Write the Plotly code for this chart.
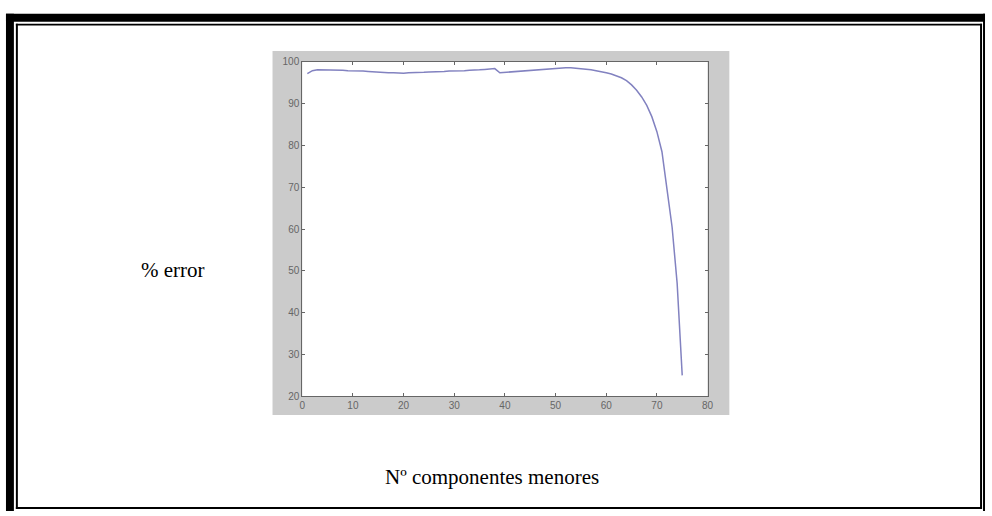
import plotly.graph_objects as go

# ---- data ----
components = list(range(1, 76))
error_pct = [
    97.2, 97.9, 98.1, 98.1, 98.1, 98.0, 98.0, 98.0, 97.9, 97.9,
    97.8, 97.8, 97.7, 97.6, 97.6, 97.5, 97.4, 97.4, 97.3, 97.3,
    97.4, 97.4, 97.5, 97.5, 97.6, 97.6, 97.7, 97.7, 97.8, 97.8,
    97.9, 97.9, 98.0, 98.0, 98.1, 98.2, 98.3, 98.4, 97.4, 97.5,
    97.6, 97.7, 97.8, 97.9, 98.0, 98.1, 98.2, 98.3, 98.4, 98.5,
    98.5, 98.6, 98.6, 98.5, 98.4, 98.3, 98.1, 97.9, 97.7, 97.4,
    97.1, 96.7, 96.2, 95.5, 94.5, 93.2, 91.6, 89.6, 86.9, 83.3,
    78.5, 69.5, 60.5, 47.0, 25.0,
]
x_ticks = [0, 10, 20, 30, 40, 50, 60, 70, 80]
y_ticks = [20, 30, 40, 50, 60, 70, 80, 90, 100]
y_label = "% error"
x_label = "Nº componentes menores"

W, H = 992, 516


def px(x):
    return x / W


def py(y):
    return 1 - y / H


fig = go.Figure()
fig.add_trace(go.Scatter(
    x=components, y=error_pct, mode="lines",
    line=dict(color="#8282c0", width=1.5),
    showlegend=False, hoverinfo="skip",
))

shapes = []


def box(x0, y0, x1, y1, color, layer="below"):
    shapes.append(dict(type="rect", xref="paper", yref="paper",
                       x0=px(x0), x1=px(x1), y0=py(y1), y1=py(y0),
                       fillcolor=color, line=dict(width=0), layer=layer))


# MATLAB figure grey background
box(272, 47, 733, 418, "#cbcbcb")
# white axes area on top of the grey
shapes.append(dict(type="rect", xref="x domain", yref="y domain",
                   x0=0, x1=1, y0=0, y1=1, fillcolor="white",
                   line=dict(width=0), layer="below"))
# document frame
box(3, 9, 991, 17, "black", "above")       # thick top
box(3, 9, 11, 516, "black", "above")       # thick left
box(989, 9, 991, 516, "black", "above")    # outer right
box(13, 19, 988, 21, "black", "above")     # inner top
box(13, 19, 15, 514, "black", "above")     # inner left
box(986, 19, 988, 514, "black", "above")   # inner right
box(13, 512, 988, 514, "black", "above")   # inner bottom

axis_common = dict(
    ticks="inside", ticklen=3, tickcolor="#666",
    showline=True, linecolor="#666", linewidth=1, mirror="ticks",
    showgrid=False, zeroline=False,
    tickfont=dict(family="Liberation Sans", size=10, color="#666"),
)

fig.update_layout(
    width=W, height=H,
    margin=dict(l=0, r=0, t=0, b=0),
    paper_bgcolor="white",
    plot_bgcolor="white",
    shapes=shapes,
    xaxis=dict(domain=[px(302), px(711)], range=[0, 80],
               tickvals=x_ticks, ticktext=[str(v) for v in x_ticks],
               **axis_common),
    yaxis=dict(domain=[py(399), py(58)], range=[20, 100],
               tickvals=y_ticks, ticktext=[str(v) for v in y_ticks],
               **axis_common),
    annotations=[
        dict(text=y_label, xref="paper", yref="paper",
             x=px(172), y=py(270), xanchor="center", yanchor="middle",
             showarrow=False,
             font=dict(family="Liberation Serif", size=21, color="black")),
        dict(text=x_label, xref="paper", yref="paper",
             x=px(493), y=py(481), xanchor="center", yanchor="middle",
             showarrow=False,
             font=dict(family="Liberation Serif", size=21, color="black")),
    ],
)

fig.write_html(
    "out.html",
    config={"displayModeBar": False},
    post_script="document.body.style.margin='0';document.body.style.overflow='hidden';",
)
